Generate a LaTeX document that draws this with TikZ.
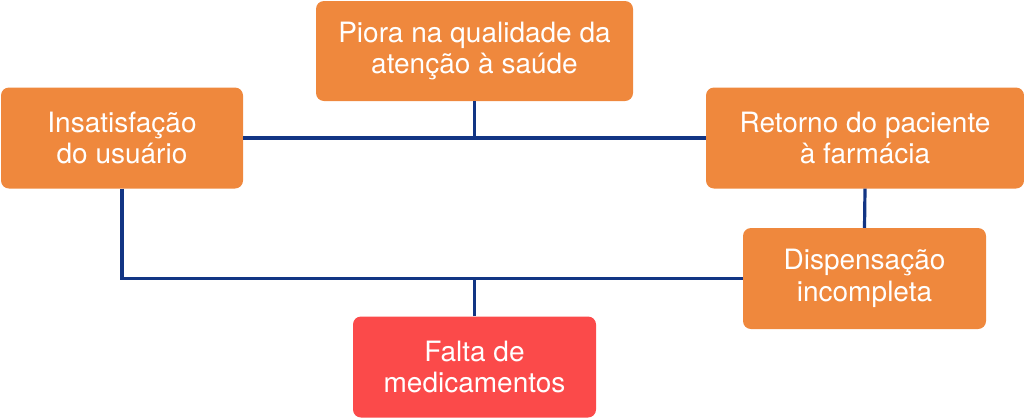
\documentclass[tikz,border=0pt]{standalone}
\usepackage{fontspec}
\setmainfont{TeX Gyre Heros}
\definecolor{boxorange}{HTML}{EF883D}
\definecolor{boxred}{HTML}{FB4A4A}
\definecolor{linenavy}{HTML}{123584}
\begin{document}
\begin{tikzpicture}[x=1pt,y=-1pt,
  box/.style={rectangle, rounded corners=8pt, fill=boxorange, draw=none, text=white,
    inner sep=0pt, minimum height=101pt, align=center,
    font=\fontsize{28}{31.5}\selectfont},
  conn/.style={draw=linenavy, line width=3.2pt}]
\useasboundingbox (0,0) rectangle (1024,418);
\node[box, minimum width=317pt, minimum height=100pt] (b1) at (474.5,51) {Piora na qualidade da\\atenção à saúde};
\node[box, minimum width=242pt] (b2) at (122,138) {Insatisfação\\do usuário};
\node[box, minimum width=318pt] (b3) at (865,138) {Retorno do paciente\\à farmácia};
\node[box, minimum width=243pt] (b4) at (864.5,278.5) {Dispensação\\incompleta};
\node[box, fill=boxred, minimum width=243pt] (b5) at (474.5,367) {Falta de\\medicamentos};
\coordinate (j1) at (474.5,138);
\coordinate (j2) at (474.5,278.5);
\coordinate (c2) at (122,278.5);
\draw[conn] (b2.east) -- (b3.west);
\draw[conn] (b1.south) -- (j1);
\draw[conn] (b2.south) -- (c2) -- (b4.west);
\draw[conn] (b5.north) -- (j2);
\draw[conn] (b3.south) -- (b4.north);
\end{tikzpicture}
\end{document}
